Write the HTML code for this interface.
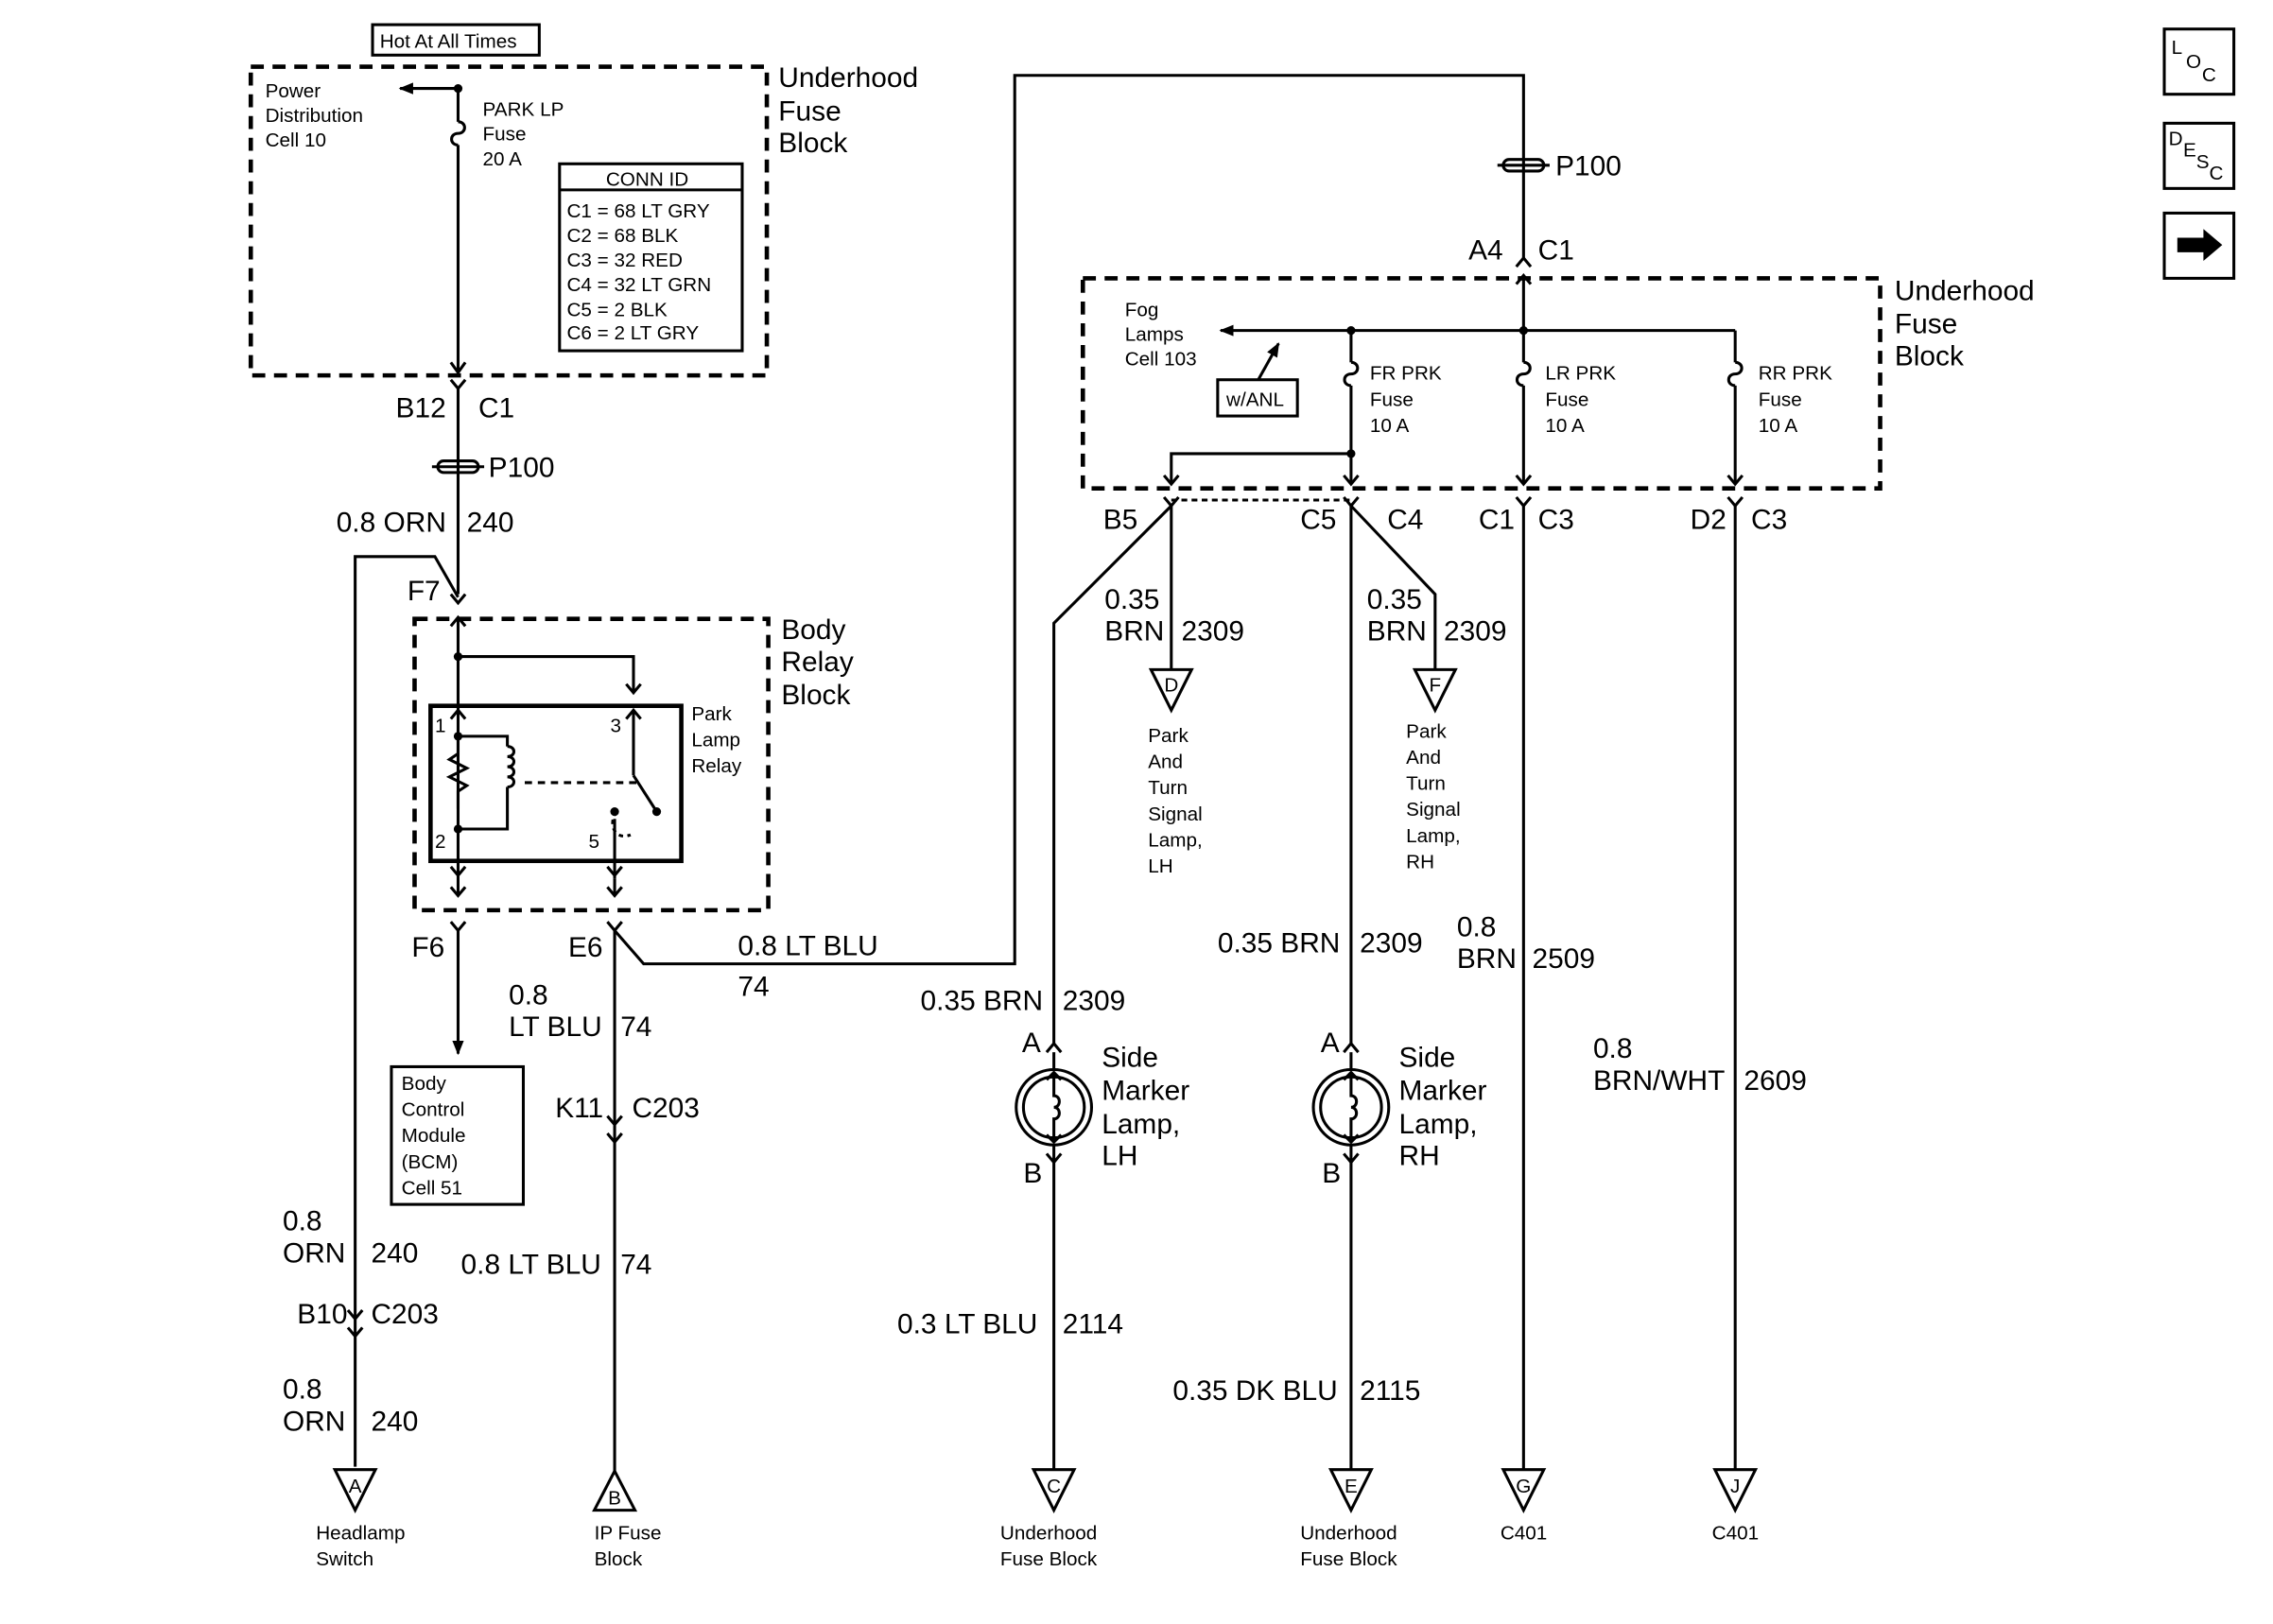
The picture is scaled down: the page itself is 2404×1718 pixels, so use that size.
<!DOCTYPE html>
<html><head><meta charset="utf-8"><style>
html,body{margin:0;padding:0;background:#fff;}
svg{display:block;}
text{font-family:"Liberation Sans",sans-serif;fill:#000;}
.L{font-size:19.5px;}
.S{font-size:13.5px;}
</style></head><body>
<svg width="2404" height="1718" viewBox="0 0 1568 1120.5" xmlns="http://www.w3.org/2000/svg">
<defs>
<marker id="ah" markerWidth="10" markerHeight="10" refX="9" refY="5" orient="auto" markerUnits="userSpaceOnUse"><path d="M0,1 L10,5 L0,9 Z" fill="#000"/></marker>
</defs>
<g stroke="#000" fill="none" stroke-width="2">
<rect x="257" y="17" width="115" height="21"/>
<rect x="173" y="46" width="356" height="213" stroke-width="3" stroke-dasharray="9,6"/>
<line x1="316" y1="61" x2="276" y2="61" marker-end="url(#ah)"/>
<line x1="316" y1="61" x2="316" y2="84"/>
<path d="M316,84 c6,0 6,8 0,8 c-6,0 -6,8 0,8"/>
<line x1="316" y1="100" x2="316" y2="256"/>
<path d="M311,250 L316,257 L321,250"/>
<path d="M311,262 L316,268 L321,262"/>
<line x1="316" y1="268" x2="316" y2="410"/>
<rect x="386" y="113" width="126" height="129"/>
<line x1="386" y1="131" x2="512" y2="131"/>
<rect x="302" y="318" width="28" height="8" rx="4"/>
<line x1="298" y1="322" x2="334" y2="322"/>
<path d="M311,410 L316,416 L321,410"/>
<polyline points="316,412 300,384 245,384 245,1012"/>
<rect x="286" y="427" width="244" height="201" stroke-width="3" stroke-dasharray="9,6"/>
<path d="M311,432 L316,426 L321,432"/>
<line x1="316" y1="426" x2="316" y2="600"/>
<polyline points="316,453 437,453 437,478"/>
<path d="M432,472 L437,478 L442,472"/>
<rect x="297" y="487" width="173" height="107" stroke-width="3"/>
<path d="M311,496 L316,490 L321,496"/>
<path d="M432,496 L437,490 L442,496"/>
<polyline points="316,508 316,520 310,524 322,530 310,536 322,542 316,546 316,558"/>
<polyline points="316,508 350,508 350,515"/>
<path d="M350,515 c6,0 6,7 0,7 c6,0 6,7 0,7 c6,0 6,7 0,7 c6,0 6,7 0,7"/>
<polyline points="350,543 350,572 316,572"/>
<line x1="437" y1="490" x2="437" y2="535"/>
<line x1="437" y1="535" x2="453" y2="560"/>
<line x1="362" y1="540" x2="440" y2="540" stroke-dasharray="5,4"/>
<path d="M425,560 c-6,10 0,20 10,16" stroke-dasharray="3,3"/>
<line x1="424" y1="565" x2="424" y2="606"/>
<path d="M311,598 L316,604 L321,598"/>
<path d="M419,598 L424,604 L429,598"/>
<line x1="316" y1="600" x2="316" y2="618"/>
<path d="M311,612 L316,618 L321,612"/>
<path d="M419,612 L424,618 L429,612"/>
<line x1="424" y1="606" x2="424" y2="618"/>
<path d="M311,636 L316,642 L321,636"/>
<line x1="316" y1="642" x2="316" y2="727" marker-end="url(#ah)"/>
<rect x="270" y="736" width="91" height="95"/>
<path d="M419,636 L424,642 L429,636"/>
<line x1="424" y1="642" x2="424" y2="1015"/>
<polyline points="424,642 444,665 700,665 700,52 1051,52 1051,178"/>
<path d="M419,770 L424,776 L429,770"/>
<path d="M419,782 L424,788 L429,782"/>
<path d="M240,904 L245,910 L250,904"/>
<path d="M240,916 L245,922 L250,916"/>
<path d="M231,1014 L259,1014 L245,1042 Z"/>
<path d="M410,1042 L438,1042 L424,1015 Z"/>
<rect x="1037" y="110" width="28" height="8" rx="4"/>
<line x1="1033" y1="114" x2="1069" y2="114"/>
<path d="M1046,184 L1051,178 L1056,184"/>
<path d="M1046,196 L1051,190 L1056,196"/>
<line x1="1051" y1="190" x2="1051" y2="228"/>
<rect x="747" y="192" width="550" height="145" stroke-width="3" stroke-dasharray="9,6"/>
<line x1="1197" y1="228" x2="842" y2="228" marker-end="url(#ah)"/>
<rect x="840" y="262" width="55" height="25"/>
<line x1="868" y1="262" x2="882" y2="237" marker-end="url(#ah)"/>
<line x1="932" y1="228" x2="932" y2="250"/>
<path d="M932,250 c6,0 6,8 0,8 c-6,0 -6,8 0,8"/>
<line x1="932" y1="266" x2="932" y2="334"/>
<line x1="1051" y1="228" x2="1051" y2="250"/>
<path d="M1051,250 c6,0 6,8 0,8 c-6,0 -6,8 0,8"/>
<line x1="1051" y1="266" x2="1051" y2="334"/>
<line x1="1197" y1="228" x2="1197" y2="250"/>
<path d="M1197,250 c6,0 6,8 0,8 c-6,0 -6,8 0,8"/>
<line x1="1197" y1="266" x2="1197" y2="334"/>
<polyline points="932,313 808,313 808,334"/>
<path d="M803,328 L808,334 L813,328"/>
<path d="M927,328 L932,334 L937,328"/>
<path d="M1046,328 L1051,334 L1056,328"/>
<path d="M1192,328 L1197,334 L1202,328"/>
<path d="M803,343 L808,349 L813,343"/>
<path d="M927,343 L932,349 L937,343"/>
<path d="M1046,343 L1051,349 L1056,343"/>
<path d="M1192,343 L1197,349 L1202,343"/>
<line x1="808" y1="345" x2="932" y2="345" stroke-dasharray="4,3"/>
<line x1="808" y1="349" x2="808" y2="462"/>
<polyline points="808,349 727,430 727,720"/>
<path d="M794,462 L822,462 L808,490 Z"/>
<line x1="932" y1="349" x2="932" y2="720"/>
<polyline points="932,349 990,410 990,462"/>
<path d="M976,462 L1004,462 L990,490 Z"/>
<line x1="1051" y1="349" x2="1051" y2="1014"/>
<line x1="1197" y1="349" x2="1197" y2="1014"/>
<path d="M722,726 L727,720 L732,726"/>
<line x1="727" y1="726" x2="727" y2="738"/>
<circle cx="727" cy="764" r="26"/>
<circle cx="727" cy="764" r="21"/>
<path d="M722,745 L727,740 L732,745 M727,740 L727,756 c5,0 5,8 0,8 c5,0 5,8 0,8 L727,788 M722,783 L727,788 L732,783"/>
<line x1="727" y1="790" x2="727" y2="802"/>
<path d="M722,796 L727,802 L732,796"/>
<line x1="727" y1="802" x2="727" y2="1014"/>
<path d="M927,726 L932,720 L937,726"/>
<line x1="932" y1="726" x2="932" y2="738"/>
<circle cx="932" cy="764" r="26"/>
<circle cx="932" cy="764" r="21"/>
<path d="M927,745 L932,740 L937,745 M932,740 L932,756 c5,0 5,8 0,8 c5,0 5,8 0,8 L932,788 M927,783 L932,788 L937,783"/>
<line x1="932" y1="790" x2="932" y2="802"/>
<path d="M927,796 L932,802 L937,796"/>
<line x1="932" y1="802" x2="932" y2="1014"/>
<path d="M713,1014 L741,1014 L727,1042 Z"/>
<path d="M918,1014 L946,1014 L932,1042 Z"/>
<path d="M1037,1014 L1065,1014 L1051,1042 Z"/>
<path d="M1183,1014 L1211,1014 L1197,1042 Z"/>
<rect x="1493" y="20" width="48" height="45"/>
<rect x="1493" y="85" width="48" height="45"/>
<rect x="1493" y="147" width="48" height="45"/>
</g>
<g fill="#000" stroke="none">
<circle cx="316" cy="61" r="3"/><circle cx="316" cy="453" r="3"/><circle cx="316" cy="508" r="3"/><circle cx="316" cy="572" r="3"/>
<circle cx="932" cy="228" r="3"/><circle cx="1051" cy="228" r="3"/><circle cx="932" cy="313" r="3"/>
<circle cx="424" cy="560" r="3"/><circle cx="453" cy="560" r="3"/>
<path d="M1502,164 L1520,164 L1520,158 L1533,169 L1520,180 L1520,174 L1502,174 Z"/>
</g>
<text x="262" y="33" class="S">Hot At All Times</text>
<text x="537" y="60" class="L">Underhood</text><text x="537" y="83" class="L">Fuse</text><text x="537" y="105" class="L">Block</text>
<text x="183" y="67" class="S">Power</text><text x="183" y="84" class="S">Distribution</text><text x="183" y="101" class="S">Cell 10</text>
<text x="333" y="80" class="S">PARK LP</text><text x="333" y="97" class="S">Fuse</text><text x="333" y="114" class="S">20 A</text>
<text x="418" y="128" class="S">CONN ID</text>
<text x="391" y="150" class="S">C1 = 68 LT GRY</text><text x="391" y="167" class="S">C2 = 68 BLK</text><text x="391" y="184" class="S">C3 = 32 RED</text><text x="391" y="201" class="S">C4 = 32 LT GRN</text><text x="391" y="218" class="S">C5 = 2 BLK</text><text x="391" y="234" class="S">C6 = 2 LT GRY</text>
<text x="273" y="288" class="L">B12</text><text x="330" y="288" class="L">C1</text>
<text x="337" y="329" class="L">P100</text>
<text x="232" y="367" class="L">0.8 ORN</text><text x="322" y="367" class="L">240</text>
<text x="281" y="414" class="L">F7</text>
<text x="539" y="441" class="L">Body</text><text x="539" y="463" class="L">Relay</text><text x="539" y="486" class="L">Block</text>
<text x="477" y="497" class="S">Park</text><text x="477" y="515" class="S">Lamp</text><text x="477" y="533" class="S">Relay</text>
<text x="300" y="505" class="S">1</text><text x="421" y="505" class="S">3</text><text x="300" y="585" class="S">2</text><text x="406" y="585" class="S">5</text>
<text x="284" y="660" class="L">F6</text><text x="392" y="660" class="L">E6</text>
<text x="509" y="659" class="L">0.8 LT BLU</text><text x="509" y="687" class="L">74</text>
<text x="351" y="693" class="L">0.8</text><text x="351" y="715" class="L">LT BLU</text><text x="428" y="715" class="L">74</text>
<text x="277" y="752" class="S">Body</text><text x="277" y="770" class="S">Control</text><text x="277" y="788" class="S">Module</text><text x="277" y="806" class="S">(BCM)</text><text x="277" y="824" class="S">Cell 51</text>
<text x="383" y="771" class="L">K11</text><text x="436" y="771" class="L">C203</text>
<text x="318" y="879" class="L">0.8 LT BLU</text><text x="428" y="879" class="L">74</text>
<text x="195" y="849" class="L">0.8</text><text x="195" y="871" class="L">ORN</text><text x="256" y="871" class="L">240</text>
<text x="205" y="913" class="L">B10</text><text x="256" y="913" class="L">C203</text>
<text x="195" y="965" class="L">0.8</text><text x="195" y="987" class="L">ORN</text><text x="256" y="987" class="L">240</text>
<text x="245" y="1030" class="S" text-anchor="middle">A</text><text x="424" y="1038" class="S" text-anchor="middle">B</text>
<text x="218" y="1062" class="S">Headlamp</text><text x="218" y="1080" class="S">Switch</text>
<text x="410" y="1062" class="S">IP Fuse</text><text x="410" y="1080" class="S">Block</text>
<text x="1073" y="121" class="L">P100</text>
<text x="1013" y="179" class="L">A4</text><text x="1061" y="179" class="L">C1</text>
<text x="1307" y="207" class="L">Underhood</text><text x="1307" y="230" class="L">Fuse</text><text x="1307" y="252" class="L">Block</text>
<text x="776" y="218" class="S">Fog</text><text x="776" y="235" class="S">Lamps</text><text x="776" y="252" class="S">Cell 103</text>
<text x="846" y="280" class="S">w/ANL</text>
<text x="945" y="262" class="S">FR PRK</text><text x="945" y="280" class="S">Fuse</text><text x="945" y="298" class="S">10 A</text>
<text x="1066" y="262" class="S">LR PRK</text><text x="1066" y="280" class="S">Fuse</text><text x="1066" y="298" class="S">10 A</text>
<text x="1213" y="262" class="S">RR PRK</text><text x="1213" y="280" class="S">Fuse</text><text x="1213" y="298" class="S">10 A</text>
<text x="761" y="365" class="L">B5</text><text x="897" y="365" class="L">C5</text><text x="957" y="365" class="L">C4</text><text x="1020" y="365" class="L">C1</text><text x="1061" y="365" class="L">C3</text><text x="1166" y="365" class="L">D2</text><text x="1208" y="365" class="L">C3</text>
<text x="762" y="420" class="L">0.35</text><text x="762" y="442" class="L">BRN</text><text x="815" y="442" class="L">2309</text>
<text x="943" y="420" class="L">0.35</text><text x="943" y="442" class="L">BRN</text><text x="996" y="442" class="L">2309</text>
<text x="808" y="477" class="S" text-anchor="middle">D</text><text x="990" y="477" class="S" text-anchor="middle">F</text>
<text x="792" y="512" class="S">Park</text><text x="792" y="530" class="S">And</text><text x="792" y="548" class="S">Turn</text><text x="792" y="566" class="S">Signal</text><text x="792" y="584" class="S">Lamp,</text><text x="792" y="602" class="S">LH</text>
<text x="970" y="509" class="S">Park</text><text x="970" y="527" class="S">And</text><text x="970" y="545" class="S">Turn</text><text x="970" y="563" class="S">Signal</text><text x="970" y="581" class="S">Lamp,</text><text x="970" y="599" class="S">RH</text>
<text x="840" y="657" class="L">0.35 BRN</text><text x="938" y="657" class="L">2309</text>
<text x="1005" y="646" class="L">0.8</text><text x="1005" y="668" class="L">BRN</text><text x="1057" y="668" class="L">2509</text>
<text x="635" y="697" class="L">0.35 BRN</text><text x="733" y="697" class="L">2309</text>
<text x="705" y="726" class="L">A</text><text x="706" y="816" class="L">B</text>
<text x="760" y="736" class="L">Side</text><text x="760" y="759" class="L">Marker</text><text x="760" y="782" class="L">Lamp,</text><text x="760" y="804" class="L">LH</text>
<text x="911" y="726" class="L">A</text><text x="912" y="816" class="L">B</text>
<text x="965" y="736" class="L">Side</text><text x="965" y="759" class="L">Marker</text><text x="965" y="782" class="L">Lamp,</text><text x="965" y="804" class="L">RH</text>
<text x="1099" y="730" class="L">0.8</text><text x="1099" y="752" class="L">BRN/WHT</text><text x="1203" y="752" class="L">2609</text>
<text x="619" y="920" class="L">0.3 LT BLU</text><text x="733" y="920" class="L">2114</text>
<text x="809" y="966" class="L">0.35 DK BLU</text><text x="938" y="966" class="L">2115</text>
<text x="727" y="1030" class="S" text-anchor="middle">C</text><text x="932" y="1030" class="S" text-anchor="middle">E</text><text x="1051" y="1030" class="S" text-anchor="middle">G</text><text x="1197" y="1030" class="S" text-anchor="middle">J</text>
<text x="690" y="1062" class="S">Underhood</text><text x="690" y="1080" class="S">Fuse Block</text>
<text x="897" y="1062" class="S">Underhood</text><text x="897" y="1080" class="S">Fuse Block</text>
<text x="1035" y="1062" class="S">C401</text><text x="1181" y="1062" class="S">C401</text>
<text x="1498" y="37" class="S">L</text><text x="1508" y="47" class="S">O</text><text x="1519" y="56" class="S">C</text>
<text x="1496" y="100" class="S">D</text><text x="1506" y="108" class="S">E</text><text x="1515" y="116" class="S">S</text><text x="1524" y="124" class="S">C</text>
</svg>
</body></html>
